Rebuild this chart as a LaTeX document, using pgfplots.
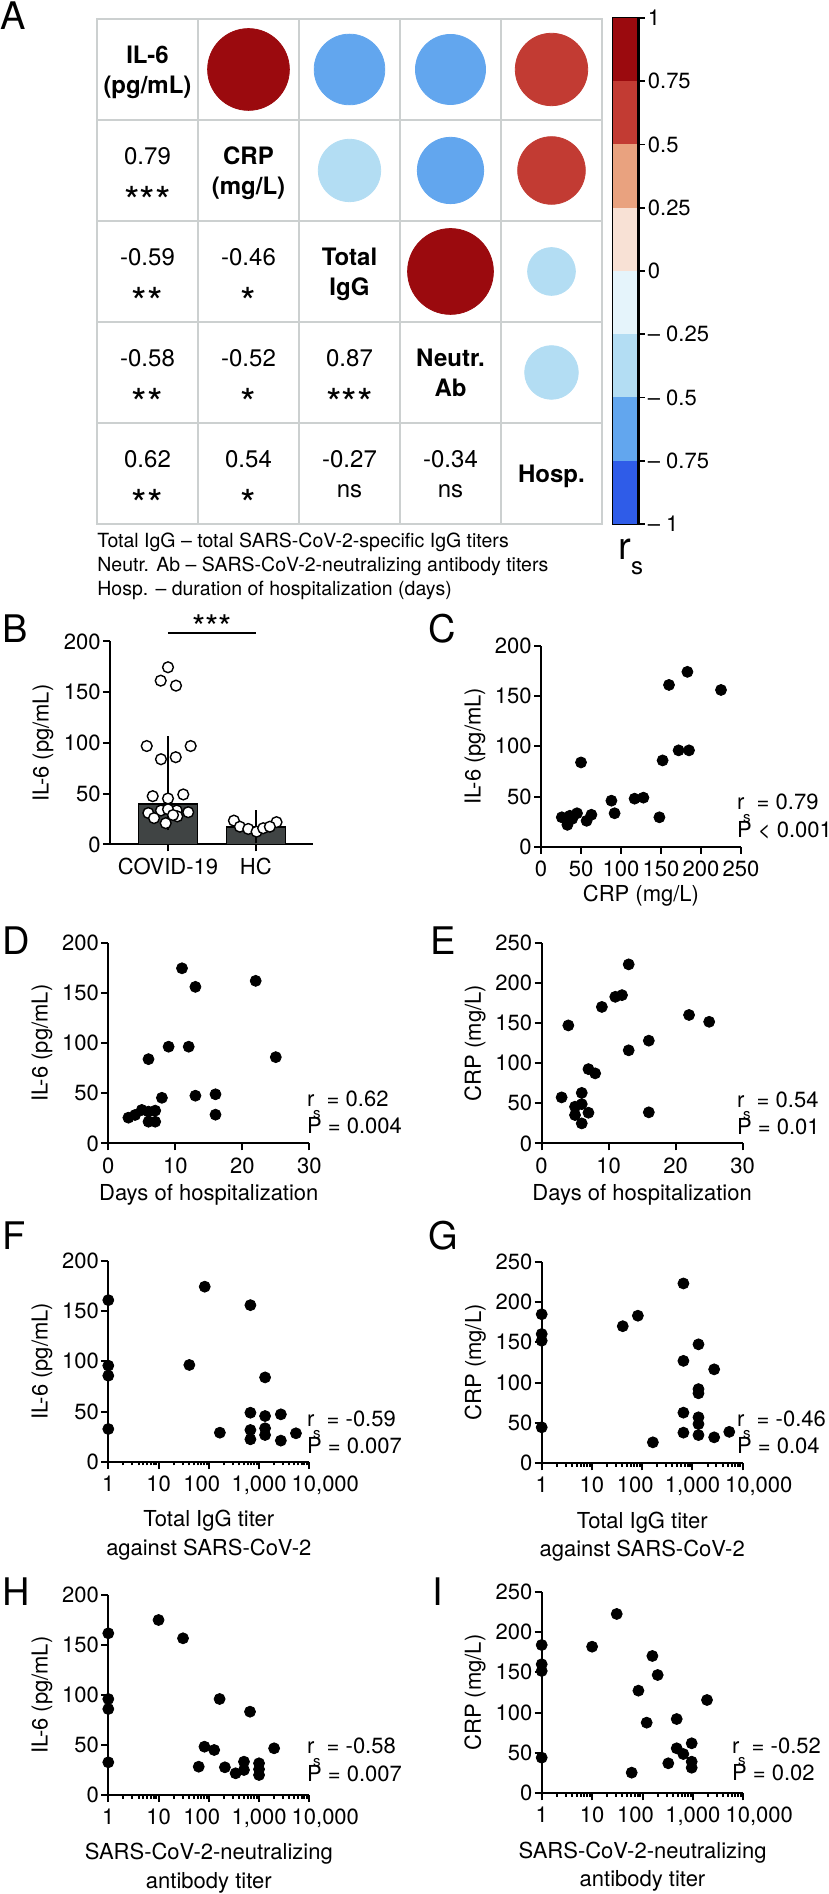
\documentclass[border=0pt]{standalone}
\usepackage{fontspec}
\setmainfont{TeX Gyre Heros}
\usepackage{pgfplots}
\pgfplotsset{compat=1.18}

% colour bands of the r_s scale
\definecolor{rsA}{RGB}{155,10,14}
\definecolor{rsB}{RGB}{194,59,51}
\definecolor{rsC}{RGB}{233,162,127}
\definecolor{rsD}{RGB}{248,225,213}
\definecolor{rsE}{RGB}{229,244,251}
\definecolor{rsF}{RGB}{179,221,243}
\definecolor{rsG}{RGB}{98,166,238}
\definecolor{rsH}{RGB}{47,92,232}
\definecolor{gridgray}{RGB}{204,208,208}
\definecolor{bargray}{RGB}{64,68,68}

\newcommand{\lbl}{\fontsize{11}{13}\selectfont}
\newcommand{\rsub}{r\kern-0.06em\raisebox{-0.55em}{\fontsize{7.5}{8}\selectfont s}}

\pgfplotsset{
  panel/.style={
    scale only axis, width=100.5pt, height=100.5pt,
    axis lines=left, axis line style={-, line width=1pt},
    every tick/.style={black, line width=1pt},
    tick align=outside, major tick length=3.5pt, minor tick length=1.8pt,
    tick label style={font=\lbl},
    yticklabel style={inner sep=1pt},
    /pgf/number format/assume math mode=true,
    clip=false,
    ylabel style={font=\lbl, at={(axis description cs:-0.33,0.5)}, anchor=center},
    xlabel style={font=\fontsize{11}{14.25}\selectfont, at={(axis description cs:0.5,0)},
      anchor=north, inner sep=0pt, align=center},
  },
  dots/.style={only marks, mark=*, mark size=2.75pt, mark options={draw=black, fill=black}},
  logticks/.style={xmin=1, xmax=10000, xtick={1,10,100,1000,10000},
    xticklabels={1,10,100\hspace*{7pt},{1,000},{\hspace*{16pt}10,000}},
    minor xtick={2,3,4,5,6,7,8,9,20,30,40,50,60,70,80,90,200,300,400,500,600,700,800,900,2000,3000,4000,5000,6000,7000,8000,9000}},
  circ/.style={scatter, only marks, mark=*,
    scatter/use mapped color={draw=#1, fill=#1},
    visualization depends on={23*sqrt(abs(\thisrow{r})) \as \rad},
    scatter/@pre marker code/.append style={/tikz/mark size=\rad}},
}

\newcommand{\cnum}[4]{%
  \node[anchor=base, inner sep=0pt, font=\fontsize{12}{14}\selectfont, yshift=2.75pt] at (axis cs:#1,#2) {#3};
  \node[anchor=base, inner sep=0pt, font=\fontsize{20}{20}\selectfont, yshift=-22.5pt] at (axis cs:#1,#2) {#4};}
\newcommand{\cns}[3]{%
  \node[anchor=base, inner sep=0pt, font=\fontsize{12}{14}\selectfont, yshift=2.75pt] at (axis cs:#1,#2) {#3};
  \node[anchor=base, inner sep=0pt, font=\fontsize{12}{14}\selectfont, yshift=-12.1pt] at (axis cs:#1,#2) {ns};}
\newcommand{\cname}[4]{%
  \node[anchor=base, inner sep=0pt, font=\fontsize{12}{14}\selectfont\bfseries, yshift=2.85pt] at (axis cs:#1,#2) {#3};
  \node[anchor=base, inner sep=0pt, font=\fontsize{12}{14}\selectfont\bfseries, yshift=-12.15pt] at (axis cs:#1,#2) {#4};}
\newcommand{\stat}[4]{%
  \node[anchor=base west, inner sep=0pt, font=\lbl] at (#1pt,#2pt) {\rsub\ = #3};
  \node[anchor=base west, inner sep=0pt, font=\lbl] at (#1pt,#2pt-13.75pt) {P #4};}
\newcommand{\plet}[3]{\node[anchor=base west, inner sep=0pt, font=\fontsize{19}{20}\selectfont] at (#1pt,#2pt) {#3};}

\begin{document}
\begin{tikzpicture}
\path[use as bounding box] (0pt,0pt) rectangle (414.5pt,947pt);

% ---------- A: correlation matrix ----------
\begin{axis}[at={(48.5pt,937.5pt)}, anchor=north west, scale only axis,
  width=252.5pt, height=252.5pt,
  xmin=0.5, xmax=5.5, ymin=0.5, ymax=5.5, y dir=reverse,
  xtick={0.5,1.5,2.5,3.5,4.5,5.5}, ytick={0.5,1.5,2.5,3.5,4.5,5.5},
  xticklabels={}, yticklabels={}, major tick length=0pt,
  grid=major, grid style={line width=0.9pt, gridgray},
  axis line style={line width=0.9pt, gridgray}, clip=false]
\addplot[circ=rsA] table {
x y r
2 1 0.79
4 3 0.87
};
\addplot[circ=rsB] table {
x y r
5 1 0.62
5 2 0.54
};
\addplot[circ=rsG] table {
x y r
3 1 -0.59
4 1 -0.58
4 2 -0.52
};
\addplot[circ=rsF] table {
x y r
3 2 -0.46
5 3 -0.27
5 4 -0.34
};
\cname{1}{1}{IL-6}{(pg/mL)}
\cname{2}{2}{CRP}{(mg/L)}
\cname{3}{3}{Total}{IgG}
\cname{4}{4}{Neutr.}{Ab}
\node[anchor=base, inner sep=0pt, font=\fontsize{12}{14}\selectfont\bfseries, yshift=-4.3pt] at (axis cs:5,5) {Hosp.};
\cnum{1}{2}{0.79}{***}
\cnum{1}{3}{-0.59}{**}
\cnum{2}{3}{-0.46}{*}
\cnum{1}{4}{-0.58}{**}
\cnum{2}{4}{-0.52}{*}
\cnum{3}{4}{0.87}{***}
\cnum{1}{5}{0.62}{**}
\cnum{2}{5}{0.54}{*}
\cns{3}{5}{-0.27}
\cns{4}{5}{-0.34}
\end{axis}

% colour scale
\begin{axis}[at={(306.5pt,938pt)}, anchor=north west, scale only axis,
  width=12.75pt, height=253pt,
  xmin=0, xmax=1, ymin=-1, ymax=1, xtick=\empty,
  ytick={-1,-0.75,-0.5,-0.25,0,0.25,0.5,0.75,1},
  yticklabels={–\;1,–\;0.75,–\;0.5,–\;0.25,0,0.25,0.5,0.75,1},
  ytick pos=right, tick align=outside, major tick length=3pt,
  every tick/.style={black, line width=0.8pt},
  axis line style={line width=0.6pt},
  yticklabel style={font=\lbl, inner sep=1.5pt}, clip=false]
\addplot[fill=rsH, draw=none] coordinates {(0,-1) (1,-1) (1,-0.75) (0,-0.75)};
\addplot[fill=rsG, draw=none] coordinates {(0,-0.75) (1,-0.75) (1,-0.5) (0,-0.5)};
\addplot[fill=rsF, draw=none] coordinates {(0,-0.5) (1,-0.5) (1,-0.25) (0,-0.25)};
\addplot[fill=rsE, draw=none] coordinates {(0,-0.25) (1,-0.25) (1,0) (0,0)};
\addplot[fill=rsD, draw=none] coordinates {(0,0) (1,0) (1,0.25) (0,0.25)};
\addplot[fill=rsC, draw=none] coordinates {(0,0.25) (1,0.25) (1,0.5) (0,0.5)};
\addplot[fill=rsB, draw=none] coordinates {(0,0.5) (1,0.5) (1,0.75) (0,0.75)};
\addplot[fill=rsA, draw=none] coordinates {(0,0.75) (1,0.75) (1,1) (0,1)};
\draw[line width=1.3pt] (rel axis cs:1,0) -- (rel axis cs:1,1);
\end{axis}
\node[anchor=base west, inner sep=0pt, font=\fontsize{19}{20}\selectfont] at (309pt,667pt)
  {r\raisebox{-7.5pt}{\fontsize{12}{12}\selectfont s}};

\node[anchor=north west, align=left, inner sep=0pt, font=\fontsize{9.75}{12}\selectfont] at (48.5pt,680.5pt)
  {Total IgG – total SARS-CoV-2-specific IgG titers\\
   Neutr. Ab – SARS-CoV-2-neutralizing antibody titers\\
   Hosp. – duration of hospitalization (days)};

% ---------- B ----------
\begin{axis}[panel, at={(55pt,524.75pt)}, anchor=south west, width=101.5pt, height=101.5pt,
  xmin=0.34, xmax=2.65, ymin=0, ymax=200, xtick={1,2}, xticklabels={COVID-19,HC},
  ytick={0,50,100,150,200}, ylabel={IL-6 (pg/mL)}]
\addplot[ybar, bar width=29.5pt, fill=bargray, draw=black, line width=0.8pt,
  error bars/.cd, y dir=both, y explicit,
  error bar style={line width=1pt, black},
  error mark options={line width=1pt, mark size=6.5pt, black}]
  coordinates {(1,40) += (0,54) -= (0,13) (2,17) += (0,4) -= (0,3)};
\addplot[only marks, mark=*, mark size=2.7pt, mark options={fill=white, draw=black, line width=0.7pt}] table {
x y
1.000 174.6
0.917 161.4
1.091 156.5
0.758 97.0
1.258 97.0
0.920 84.0
1.088 86.0
0.826 47.6
1.000 45.3
1.174 49.3
0.776 31.0
0.920 33.5
1.099 33.5
1.230 31.8
0.841 26.0
1.106 27.7
0.974 21.0
1.000 34.7
1.057 29.0
1.750 23.5
2.235 22.0
1.818 17.5
1.913 15.3
2.008 12.6
2.083 16.0
2.159 17.5
};
\addplot[black, line width=1pt] coordinates {(1,208) (2,208)};
\node[anchor=base, inner sep=0pt, font=\fontsize{17}{17}\selectfont] at (axis cs:1.5,201.5) {***};
\end{axis}

% ---------- C ----------
\begin{axis}[panel, at={(270.5pt,523.5pt)}, anchor=south west, width=100pt, height=100.65pt,
  xmin=0, xmax=250, ymin=0, ymax=200, xtick={0,50,100,150,200,250}, ytick={0,50,100,150,200},
  xlabel={CRP (mg/L)}, ylabel={IL-6 (pg/mL)}, xlabel style={yshift=-19pt}]
\addplot[dots] table {
x y
183 174
160 161
225 156
172 96
185 96
152 86
50 84
88 46
117 48
128 49
92 33.5
148 29.5
26 29.5
33 22
36 31
39 28
45 33.5
57 26
63 32
};
\end{axis}

% ---------- D ----------
\begin{axis}[panel, at={(54.15pt,375.25pt)}, anchor=south west, width=100.5pt, height=100.4pt,
  xmin=0, xmax=30, ymin=0, ymax=200, xtick={0,10,20,30}, ytick={0,50,100,150,200},
  xlabel={Days of hospitalization}, ylabel={IL-6 (pg/mL)}, xlabel style={yshift=-20.5pt}]
\addplot[dots] table {
x y
11 174.5
13 156
22 162
9 96.4
12 96.4
6 84
25 86
8 45.5
13 47.6
16 49
16 28.7
3 25.7
4 28.4
5 33.4
6 31.7
7 32.7
6 21.7
7 21.7
};
\end{axis}

% ---------- E ----------
\begin{axis}[panel, at={(270.75pt,375.25pt)}, anchor=south west, width=100.6pt, height=100.4pt,
  xmin=0, xmax=30, ymin=0, ymax=250, xtick={0,10,20,30}, ytick={0,50,100,150,200,250},
  xlabel={Days of hospitalization}, ylabel={CRP (mg/L)}, xlabel style={yshift=-20.5pt}]
\addplot[dots] table {
x y
13 223
11 182.6
12 184.7
9 170
4 147
22 160
25 151.5
16 128
13 116
7 92.6
8 87.3
3 57.4
6 63
5 45.8
6 49
7 38.3
5 35.4
6 25
16 38.8
};
\end{axis}

% ---------- F ----------
\begin{axis}[xmode=log, panel, logticks, at={(54.15pt,216.15pt)}, anchor=south west, width=100.5pt, height=100.35pt,
  ymin=0, ymax=200, ytick={0,50,100,150,200},
  xlabel={Total IgG titer\\against SARS-CoV-2}, ylabel={IL-6 (pg/mL)}, xlabel style={yshift=-24pt}]
\addplot[dots] table {
x y
1 161
1 95.7
1 85.7
1 32.6
83 174.4
41 96.4
673 156
1318 84
673 48.8
673 31.6
673 22.3
1318 45.5
1318 33.3
1318 26.6
2716 47.2
2716 21
166 28.9
5420 28.3
};
\end{axis}

% ---------- G ----------
\begin{axis}[xmode=log, panel, logticks, at={(270.85pt,215.35pt)}, anchor=south west, width=100.5pt, height=100.8pt,
  ymin=0, ymax=250, ytick={0,50,100,150,200,250},
  xlabel={Total IgG titer\\against SARS-CoV-2}, ylabel={CRP (mg/L)}, xlabel style={yshift=-24pt}]
\addplot[dots] table {
x y
1 184.8
1 160.3
1 152
1 44.6
41 170
82 183
661 223
661 127
1318 147.5
2704 116.5
1318 92
1318 86.8
661 62.8
1318 57
1318 48.7
661 38
1318 35
2704 32.2
163 26
5400 39
};
\end{axis}

% ---------- H ----------
\begin{axis}[xmode=log, panel, logticks, at={(54.15pt,49.5pt)}, anchor=south west, width=100.5pt, height=100pt,
  ymin=0, ymax=200, ytick={0,50,100,150,200},
  xlabel={SARS-CoV-2-neutralizing\\antibody titer}, ylabel={IL-6 (pg/mL)}, xlabel style={yshift=-24pt}]
\addplot[dots] table {
x y
1 161.7
1 96
1 86
1 32.7
10 175
30.7 156.7
164 96
661 83.3
1995 46.7
82 48.3
128 45
63 28.3
209 27.7
342 21.7
501 33.3
501 25
1000 31.7
1000 25.7
1000 20
};
\end{axis}

% ---------- I ----------
\begin{axis}[xmode=log, panel, logticks, at={(270.85pt,50.35pt)}, anchor=south west, width=100.8pt, height=100.8pt,
  ymin=0, ymax=250, ytick={0,50,100,150,200,250},
  xlabel={SARS-CoV-2-neutralizing\\antibody titer}, ylabel={CRP (mg/L)}, xlabel style={yshift=-24pt}]
\addplot[dots] table {
x y
1 183.9
1 160
1 151.7
1 44.2
10 181.8
30.8 222.4
157 170.3
200 146.7
83 127.3
121 87.6
61 25.6
477 92.1
1905 115.7
477 55.8
646 48.7
946 62
325 37.2
946 39.2
946 31.7
};
\end{axis}

% statistics
\stat{368.35}{542}{0.79}{< 0.001}
\stat{153.35}{393.75}{0.62}{= 0.004}
\stat{368.35}{393.25}{0.54}{= 0.01}
\stat{153.35}{233.75}{-0.59}{= 0.007}
\stat{368.35}{233.75}{-0.46}{= 0.04}
\stat{153.35}{70}{-0.58}{= 0.007}
\stat{365.85}{70.35}{-0.52}{= 0.02}

% panel letters
\plet{0}{932}{A}
\plet{1}{625.5}{B}
\plet{214}{625.5}{C}
\plet{1}{469.5}{D}
\plet{215}{469.5}{E}
\plet{1}{322}{F}
\plet{214}{322}{G}
\plet{1}{144}{H}
\plet{216}{144}{I}
\end{tikzpicture}
\end{document}
